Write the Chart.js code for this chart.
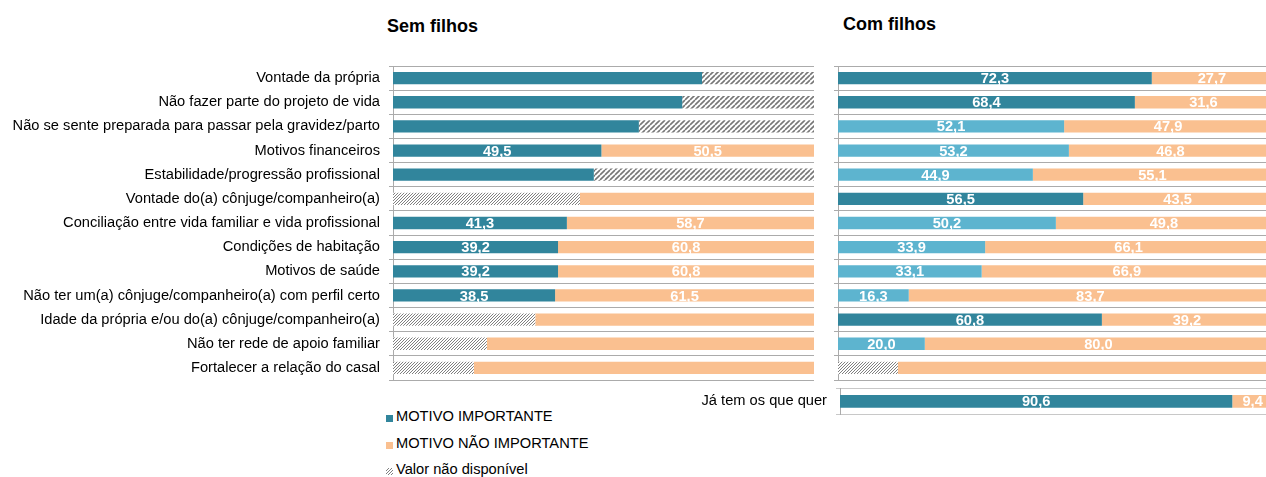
<!DOCTYPE html>
<html>
<head>
<meta charset="utf-8">
<script src="https://cdn.jsdelivr.net/npm/chart.js@4"></script>
<style>
  html, body { margin: 0; padding: 0; background: #fff; overflow: hidden; }
  #pagina { position: relative; width: 1266px; height: 477px; overflow: hidden; font-family: "Liberation Sans", Arial, sans-serif; }
  canvas { position: absolute; }
  .titulo { position: absolute; font-weight: bold; font-size: 18px; line-height: 18px; color: #000; white-space: nowrap; }
  .leg { position: absolute; left: 386px; font-size: 14.67px; line-height: 15px; color: #000; white-space: nowrap; }
  .leg i { position: absolute; left: 0; width: 7px; height: 7px; }
  .leg span { position: absolute; left: 10px; top: 0; }
</style>
</head>
<body>
<div id="pagina">
  <div class="titulo" style="left:387px; top:17px;">Sem filhos</div>
  <div class="titulo" style="left:843px; top:15px;">Com filhos</div>
  <canvas id="graficoSem" width="820" height="400" style="left:0; top:0;"></canvas>
  <canvas id="graficoCom" width="452" height="400" style="left:820px; top:0;"></canvas>
  <canvas id="graficoJa" width="583" height="40" style="left:690px; top:380px;"></canvas>
  <div class="leg" style="top:409px;"><i style="top:6px; background:#31859C;"></i><span>MOTIVO IMPORTANTE</span></div>
  <div class="leg" style="top:436px;"><i style="top:6px; background:#FAC090;"></i><span>MOTIVO NÃO IMPORTANTE</span></div>
  <div class="leg" style="top:462px;"><i id="legHatch" style="top:6px;"></i><span>Valor não disponível</span></div>
</div>
<script>
const categorias = [
  "Vontade da própria",
  "Não fazer parte do projeto de vida",
  "Não se sente preparada para passar pela gravidez/parto",
  "Motivos financeiros",
  "Estabilidade/progressão profissional",
  "Vontade do(a) cônjuge/companheiro(a)",
  "Conciliação entre vida familiar e vida profissional",
  "Condições de habitação",
  "Motivos de saúde",
  "Não ter um(a) cônjuge/companheiro(a) com perfil certo",
  "Idade da própria e/ou do(a) cônjuge/companheiro(a)",
  "Não ter rede de apoio familiar",
  "Fortalecer a relação do casal"
];

// Sem filhos
const semImportante    = [73.4, 68.7, 58.4, 49.5, 47.7, null, 41.3, 39.2, 39.2, 38.5, null, null, null];
const semNaoImportante = [null, null, null, 50.5, null, 55.6, 58.7, 60.8, 60.8, 61.5, 66.2, 77.7, 80.8];
const semNaoDisponivel = [26.6, 31.3, 41.6, null, 52.3, 44.4, null, null, null, null, 33.8, 22.3, 19.2];

// Com filhos
const comImportante    = [72.3, 68.4, 52.1, 53.2, 44.9, 56.5, 50.2, 33.9, 33.1, 16.3, 60.8, 20.0, null];
const comNaoImportante = [27.7, 31.6, 47.9, 46.8, 55.1, 43.5, 49.8, 66.1, 66.9, 83.7, 39.2, 80.0, 86.2];
const comNaoDisponivel = [null, null, null, null, null, null, null, null, null, null, null, null, 13.8];
const comDestaque      = [true, true, false, false, false, true, false, false, false, false, true, false, false];

// Com filhos - já tem os que quer
const jaCategoria = ["Já tem os que quer"];
const jaImportante = [90.6];
const jaNaoImportante = [9.4];

const TEAL = "#31859C";
const AZUL = "#5DB4CF";
const LARANJA = "#FAC090";
const GRELHA = "#ababab";
const FONTE = '"Liberation Sans", Arial, sans-serif';

function tracejado(passo, espessura, cor) {
  const c = document.createElement("canvas");
  c.width = passo; c.height = passo;
  const g = c.getContext("2d");
  g.fillStyle = "#fff";
  g.fillRect(0, 0, passo, passo);
  g.strokeStyle = cor;
  g.lineWidth = espessura;
  g.beginPath();
  for (let k = -1; k <= 1; k++) {
    g.moveTo(k * passo, passo);
    g.lineTo(k * passo + passo, 0);
  }
  g.stroke();
  return c;
}
const padraoGrosso = document.createElement("canvas").getContext("2d").createPattern(tracejado(5, 1.6, "#777"), "repeat");
const padraoFino = document.createElement("canvas").getContext("2d").createPattern(tracejado(3, 1, "#808080"), "repeat");
document.getElementById("legHatch").style.background = "url(" + tracejado(3, 1, "#808080").toDataURL() + ")";

function fmt(v) {
  return v.toFixed(1).replace(".", ",");
}

const rotulos = {
  id: "rotulos",
  afterDatasetsDraw(chart) {
    const ctx = chart.ctx;
    ctx.save();
    ctx.font = "bold 14.67px " + FONTE;
    ctx.fillStyle = "#fff";
    ctx.textAlign = "center";
    ctx.textBaseline = "middle";
    chart.data.datasets.forEach((ds, i) => {
      if (!ds.rotular) return;
      chart.getDatasetMeta(i).data.forEach((bar, j) => {
        const v = ds.data[j];
        if (v == null || !ds.rotular(j)) return;
        const p = bar.getProps(["x", "y", "base"], true);
        ctx.fillText(fmt(v), (p.x + p.base) / 2, p.y + 1);
      });
    });
    ctx.restore();
  }
};

function opcoes(larguraEixo, padding, mostrarRotulos, corGrelha) {
  return {
    indexAxis: "y",
    responsive: false,
    animation: false,
    layout: { padding: padding },
    plugins: { legend: { display: false }, tooltip: { enabled: false } },
    scales: {
      x: { display: false, stacked: true, min: 0, max: 100 },
      y: {
        stacked: true,
        grid: { color: corGrelha, lineWidth: 1, offset: true, drawTicks: true, tickLength: 4 },
        border: { color: GRELHA },
        ticks: { display: mostrarRotulos, padding: 9, color: "#000", font: { family: FONTE, size: 14.67 } },
        afterFit(scale) {
          scale.width = larguraEixo;
          scale.paddingTop = 0;
          scale.paddingBottom = 0;
        }
      }
    }
  };
}

function barra(label, dados, cor, rotular) {
  return {
    label: label,
    data: dados,
    backgroundColor: cor,
    borderWidth: 0,
    barPercentage: 0.51,
    categoryPercentage: 1,
    rotular: rotular
  };
}

// painel "Sem filhos"
const semTemND = i => semNaoDisponivel[i] != null;
new Chart(document.getElementById("graficoSem"), {
  type: "bar",
  data: {
    labels: categorias,
    datasets: [
      barra("MOTIVO IMPORTANTE", semImportante, TEAL, i => !semTemND(i)),
      barra("Valor não disponível", semNaoDisponivel,
        semNaoDisponivel.map((v, i) => semImportante[i] != null ? padraoGrosso : padraoFino), null),
      barra("MOTIVO NÃO IMPORTANTE", semNaoImportante, LARANJA, i => !semTemND(i))
    ]
  },
  options: opcoes(393, { top: 66, right: 6, bottom: 20, left: 0 }, true, GRELHA),
  plugins: [rotulos]
});

// painel "Com filhos"
const comTemND = i => comNaoDisponivel[i] != null;
new Chart(document.getElementById("graficoCom"), {
  type: "bar",
  data: {
    labels: categorias,
    datasets: [
      barra("MOTIVO IMPORTANTE", comImportante, comDestaque.map(d => d ? TEAL : AZUL), i => !comTemND(i)),
      barra("Valor não disponível", comNaoDisponivel,
        comNaoDisponivel.map((v, i) => comImportante[i] != null ? padraoGrosso : padraoFino), null),
      barra("MOTIVO NÃO IMPORTANTE", comNaoImportante, LARANJA, i => !comTemND(i))
    ]
  },
  options: opcoes(18, { top: 66, right: 0, bottom: 20, left: 0 }, false, GRELHA),
  plugins: [rotulos]
});

// "Já tem os que quer"
new Chart(document.getElementById("graficoJa"), {
  type: "bar",
  data: {
    labels: jaCategoria,
    datasets: [
      barra("MOTIVO IMPORTANTE", jaImportante, TEAL, () => true),
      barra("MOTIVO NÃO IMPORTANTE", jaNaoImportante, LARANJA, () => true)
    ]
  },
  options: opcoes(150, { top: 8.7, right: 0, bottom: 6, left: 0 }, true, "#c8c8c8"),
  plugins: [rotulos]
});
</script>
</body>
</html>
